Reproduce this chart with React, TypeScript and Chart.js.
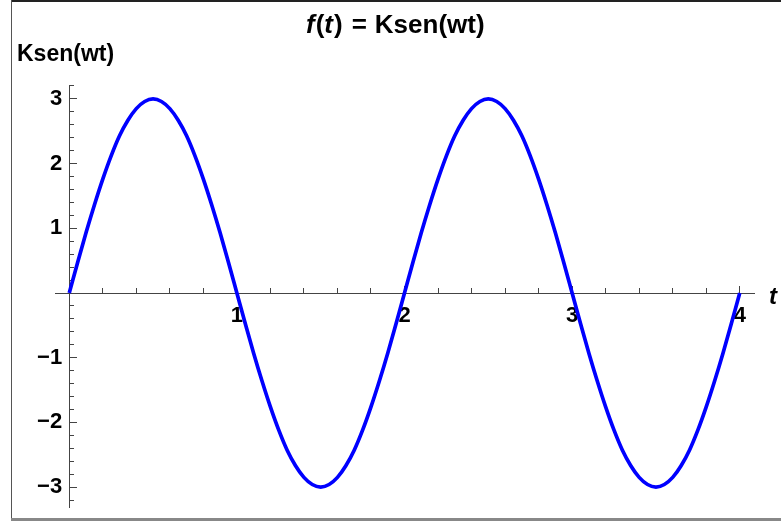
import React, { useEffect, useRef } from 'react';
import { Chart, registerables } from 'chart.js';

Chart.register(...registerables);

const T_VALUES = [
  0, 0.05, 0.1, 0.15, 0.2, 0.25, 0.3, 0.35, 0.4, 0.45, 0.5, 0.55, 0.6, 0.65, 0.7, 0.75, 0.8, 0.85, 0.9, 0.95,
  1, 1.05, 1.1, 1.15, 1.2, 1.25, 1.3, 1.35, 1.4, 1.45, 1.5, 1.55, 1.6, 1.65, 1.7, 1.75, 1.8, 1.85, 1.9, 1.95,
  2, 2.05, 2.1, 2.15, 2.2, 2.25, 2.3, 2.35, 2.4, 2.45, 2.5, 2.55, 2.6, 2.65, 2.7, 2.75, 2.8, 2.85, 2.9, 2.95,
  3, 3.05, 3.1, 3.15, 3.2, 3.25, 3.3, 3.35, 3.4, 3.45, 3.5, 3.55, 3.6, 3.65, 3.7, 3.75, 3.8, 3.85, 3.9, 3.95, 4,
];

const F_VALUES = [
  0, 0.47, 0.93, 1.36, 1.76, 2.12, 2.43, 2.67, 2.85, 2.96, 3, 2.96, 2.85, 2.67, 2.43, 2.12, 1.76, 1.36, 0.93, 0.47,
  0, -0.47, -0.93, -1.36, -1.76, -2.12, -2.43, -2.67, -2.85, -2.96, -3, -2.96, -2.85, -2.67, -2.43, -2.12, -1.76, -1.36, -0.93, -0.47,
  0, 0.47, 0.93, 1.36, 1.76, 2.12, 2.43, 2.67, 2.85, 2.96, 3, 2.96, 2.85, 2.67, 2.43, 2.12, 1.76, 1.36, 0.93, 0.47,
  0, -0.47, -0.93, -1.36, -1.76, -2.12, -2.43, -2.67, -2.85, -2.96, -3, -2.96, -2.85, -2.67, -2.43, -2.12, -1.76, -1.36, -0.93, -0.47, 0,
];

const X_MAJOR = [1, 2, 3, 4];
const X_MINOR = [0.2, 0.4, 0.6, 0.8, 1.2, 1.4, 1.6, 1.8, 2.2, 2.4, 2.6, 2.8, 3.2, 3.4, 3.6, 3.8];
const Y_MAJOR = [-3, -2, -1, 1, 2, 3];
const Y_MINOR = [
  -3.2, -2.8, -2.6, -2.4, -2.2, -1.8, -1.6, -1.4, -1.2, -0.8, -0.6, -0.4, -0.2,
  0.2, 0.4, 0.6, 0.8, 1.2, 1.4, 1.6, 1.8, 2.2, 2.4, 2.6, 2.8, 3.2,
];

const X_MIN = -0.085;
const X_MAX = 4.085;
const Y_MIN = -3.32;
const Y_MAX = 3.215;

const TITLE_PARTS: [string, string, number][] = [
  ['f', 'italic bold', 0],
  ['(', 'bold', 1],
  ['t', 'italic bold', 0],
  [')', 'bold', 1],
  ['=', 'bold', 9],
  ['Ksen(wt)', 'bold', 8],
];
const Y_AXIS_TITLE = 'Ksen(wt)';
const X_AXIS_TITLE = 't';

const FAMILY = "'Liberation Sans', Arial, Helvetica, sans-serif";
const AXIS_COLOR = '#444';

const zeroH = (s: any) => { s.height = 0; };
const zeroW = (s: any) => { s.width = 0; };
const useTicks = (vals: number[]) => (s: any) => { s.ticks = vals.map((v) => ({ value: v })); };
const fmt = (v: any) => {
  const n = Number(v);
  return n < 0 ? '\u2212' + Math.abs(n) : String(n);
};

const annotPlugin = {
  id: 'annot',
  afterDraw(chart: any) {
    const ctx = chart.ctx as CanvasRenderingContext2D;
    ctx.save();
    // frame
    ctx.fillStyle = '#222';
    ctx.fillRect(11, 0, 770, 2);
    ctx.fillStyle = '#555';
    ctx.fillRect(11, 0, 1, 521);
    ctx.fillStyle = '#888';
    ctx.fillRect(11, 518, 770, 3);

    ctx.fillStyle = '#000';
    ctx.textBaseline = 'alphabetic';
    ctx.textAlign = 'left';
    // title
    const size = 26;
    let x = 306;
    TITLE_PARTS.forEach(([txt, style, gap]) => {
      ctx.font = `${style} ${size}px ${FAMILY}`;
      x += gap;
      ctx.fillText(txt, x, 33);
      x += ctx.measureText(txt).width;
    });
    // y axis title
    ctx.font = `bold 23px ${FAMILY}`;
    ctx.fillText(Y_AXIS_TITLE, 17, 61);
    // x axis title
    ctx.font = `italic bold 24px ${FAMILY}`;
    ctx.fillText(X_AXIS_TITLE, 769, 304);
    ctx.restore();
  },
};

export default function App() {
  const ref = useRef<HTMLCanvasElement | null>(null);

  useEffect(() => {
    if (!ref.current) return;
    const tickFont = { family: FAMILY, size: 22, weight: 'bold' as const };
    const chart = new Chart(ref.current, {
      type: 'line',
      data: {
        datasets: [
          {
            label: 'f(t)',
            data: T_VALUES.map((t, i) => ({ x: t, y: F_VALUES[i] })),
            borderColor: 'rgb(0,0,255)',
            borderWidth: 3.7,
            pointRadius: 0,
            cubicInterpolationMode: 'monotone',
            fill: false,
          },
        ],
      },
      options: {
        animation: false,
        responsive: false,
        devicePixelRatio: 1,
        layout: { padding: { left: 55, right: 27, top: 85, bottom: 11 } },
        plugins: {
          legend: { display: false },
          title: { display: false },
          tooltip: { enabled: false },
        },
        scales: {
          x: {
            type: 'linear',
            min: X_MIN,
            max: X_MAX,
            position: { y: 0 } as any,
            afterFit: zeroH,
            afterBuildTicks: useTicks(X_MAJOR),
            border: { display: true, color: AXIS_COLOR, width: 1 },
            grid: { display: true, drawOnChartArea: false, drawTicks: true, tickLength: -8, tickColor: AXIS_COLOR, tickWidth: 1 },
            ticks: { font: tickFont, color: '#000', padding: 18, maxRotation: 0, autoSkip: false, callback: fmt },
          },
          xm: {
            type: 'linear',
            axis: 'x',
            min: X_MIN,
            max: X_MAX,
            position: { y: 0 } as any,
            afterFit: zeroH,
            afterBuildTicks: useTicks(X_MINOR),
            border: { display: false },
            grid: { display: true, drawOnChartArea: false, drawTicks: true, tickLength: -5, tickColor: AXIS_COLOR, tickWidth: 1 },
            ticks: { display: false },
          },
          y: {
            type: 'linear',
            min: Y_MIN,
            max: Y_MAX,
            position: { x: 0 } as any,
            afterFit: zeroW,
            afterBuildTicks: useTicks(Y_MAJOR),
            border: { display: true, color: AXIS_COLOR, width: 1 },
            grid: { display: true, drawOnChartArea: false, drawTicks: true, tickLength: -8, tickColor: AXIS_COLOR, tickWidth: 1 },
            ticks: { display: false },
          },
          ym: {
            type: 'linear',
            axis: 'y',
            min: Y_MIN,
            max: Y_MAX,
            position: { x: 0 } as any,
            afterFit: zeroW,
            afterBuildTicks: useTicks(Y_MINOR),
            border: { display: false },
            grid: { display: true, drawOnChartArea: false, drawTicks: true, tickLength: -5, tickColor: AXIS_COLOR, tickWidth: 1 },
            ticks: { display: false },
          },
          yl: {
            type: 'linear',
            axis: 'y',
            min: Y_MIN,
            max: Y_MAX,
            position: { x: -0.042 } as any,
            afterFit: zeroW,
            afterBuildTicks: useTicks(Y_MAJOR),
            border: { display: false },
            grid: { display: false, drawTicks: false },
            ticks: { font: tickFont, color: '#000', padding: 0, autoSkip: false, callback: fmt },
          },
        } as any,
      },
      plugins: [annotPlugin],
    });
    return () => chart.destroy();
  }, []);

  return (
    <canvas
      ref={ref}
      width={781}
      height={521}
      style={{ position: 'fixed', left: 0, top: 0, width: 781, height: 521, background: '#fff' }}
    />
  );
}
